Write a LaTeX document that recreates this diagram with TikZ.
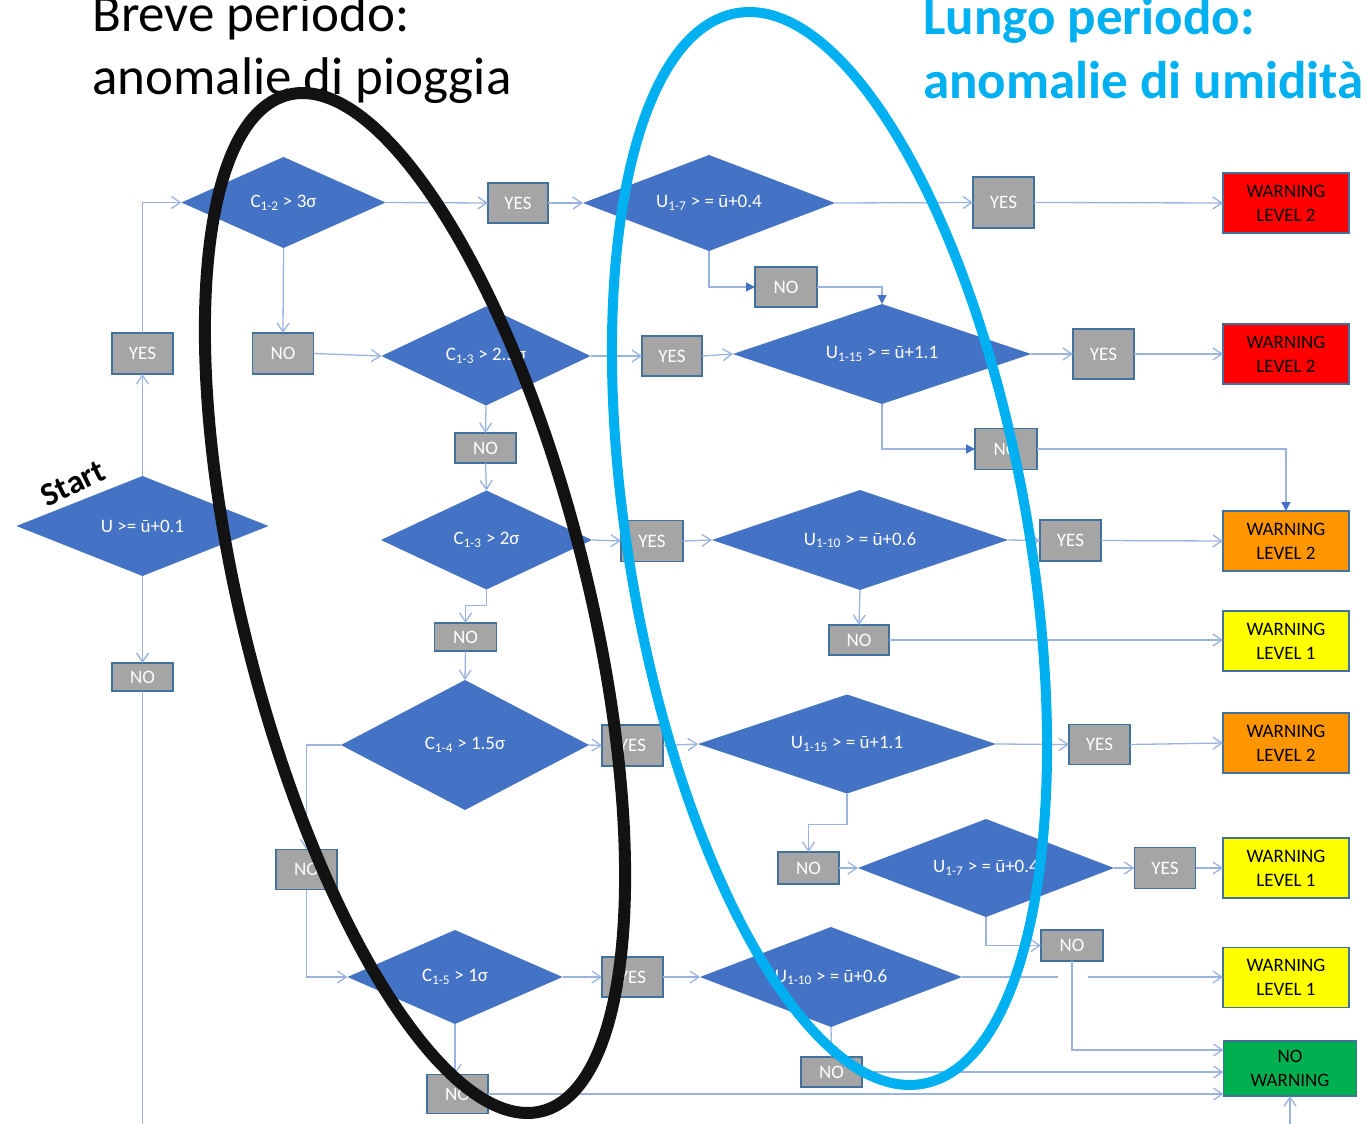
\documentclass[tikz,border=0pt]{standalone}
\usepackage{fontspec}
\setmainfont{Carlito}
\usetikzlibrary{shapes.geometric,arrows.meta}
\definecolor{dblue}{HTML}{4472C4}
\definecolor{lblue}{HTML}{9AB3E0}
\definecolor{gfill}{HTML}{A5A5A5}
\definecolor{bord}{HTML}{41719C}
\definecolor{cyanb}{HTML}{00B0F0}
\definecolor{wred}{HTML}{FF0000}
\definecolor{worange}{HTML}{FF9600}
\definecolor{wyellow}{HTML}{FFFF00}
\definecolor{wgreen}{HTML}{00B050}
\tikzset{
  dia/.style={diamond, aspect=2.5, fill=dblue, inner sep=0pt, outer sep=0pt, text=white,
    font=\fontsize{19}{22}\selectfont},
  gbox/.style={rectangle, fill=gfill, draw=bord, line width=1.5pt, inner sep=0pt,
    outer sep=0pt, text=white, font=\fontsize{19}{22}\selectfont},
  wbox/.style={rectangle, draw=bord, line width=1.2pt, inner sep=0pt, outer sep=0pt,
    text=black, align=center, font=\fontsize{19}{24}\selectfont,
    minimum width=126pt, minimum height=60pt},
  conn/.style={draw=lblue, line width=1.3pt, -{Straight Barb[length=9pt,width=12pt]}},
  fconn/.style={draw=lblue, line width=1.3pt, -{Triangle[length=9pt,width=9pt,color=dblue,fill=dblue]}},
  lineonly/.style={draw=lblue, line width=1.3pt},
  ttl/.style={anchor=base west, inner sep=0pt, font=\fontsize{53}{63}\selectfont},
}
\begin{document}
\begin{tikzpicture}[x=1pt,y=-1pt]
\useasboundingbox (0,0) rectangle (1368,1124);
\fill[white] (0,0) rectangle (1368,1124);

% titles
\node[ttl] (t1) at (92,32) {Breve periodo:};
\node[ttl] (t2) at (92,95) {anomalie di pioggia};
\node[ttl, text=cyanb, font=\bfseries\fontsize{53}{63}\selectfont] (t3) at (923,35) {Lungo periodo:};
\node[ttl, text=cyanb, font=\bfseries\fontsize{53}{63}\selectfont] (t4) at (923,98) {anomalie di umidità};

% diamonds (rain)
\node[dia, minimum width=252pt, minimum height=100pt] (D0) at (142.5,526) {U >= ū+0.1};
\node[dia, minimum width=204pt, minimum height=91pt] (D1) at (283.5,202.5) {C\textsubscript{1-2} > 3σ};
\node[dia, minimum width=209pt, minimum height=99pt] (D2) at (486,356) {C\textsubscript{1-3} > 2.5σ};
\node[dia, minimum width=211pt, minimum height=99pt] (D3) at (486.5,540) {C\textsubscript{1-3} > 2σ};
\node[dia, minimum width=248pt, minimum height=130pt] (D4) at (465,745) {C\textsubscript{1-4} > 1.5σ};
\node[dia, minimum width=215pt, minimum height=94pt] (D5) at (455,977) {C\textsubscript{1-5} > 1σ};

% diamonds (humidity)
\node[dia, minimum width=252pt, minimum height=96pt] (E1) at (709,203) {U\textsubscript{1-7} > = ū+0.4};
\node[dia, minimum width=298pt, minimum height=100pt] (E2) at (882,354) {U\textsubscript{1-15} > = ū+1.1};
\node[dia, minimum width=296pt, minimum height=100pt] (E3) at (860,540) {U\textsubscript{1-10} > = ū+0.6};
\node[dia, minimum width=298pt, minimum height=99pt] (E4) at (847,744) {U\textsubscript{1-15} > = ū+1.1};
\node[dia, minimum width=256pt, minimum height=98pt] (E5) at (986,868) {U\textsubscript{1-7} > = ū+0.4};
\node[dia, minimum width=262pt, minimum height=100pt] (E6) at (831,977) {U\textsubscript{1-10} > = ū+0.6};

% gray boxes
\node[gbox, minimum width=61pt, minimum height=41pt] (yesA) at (142.5,353.5) {YES};
\node[gbox, minimum width=61pt, minimum height=28pt] (noA) at (142.5,677) {NO};
\node[gbox, minimum width=61pt, minimum height=41pt] (no1) at (283,353.5) {NO};
\node[gbox, minimum width=60pt, minimum height=40pt] (yes1) at (518,203) {YES};
\node[gbox, minimum width=61pt, minimum height=30pt] (no2) at (485.5,448) {NO};
\node[gbox, minimum width=60pt, minimum height=40pt] (yes2) at (672,356) {YES};
\node[gbox, minimum width=62pt, minimum height=28pt] (no3) at (465.5,637) {NO};
\node[gbox, minimum width=62pt, minimum height=41pt] (yes3) at (652,541) {YES};
\node[gbox, minimum width=61pt, minimum height=41pt] (yes4) at (632.5,745.5) {YES};
\node[gbox, minimum width=61pt, minimum height=40pt] (noB) at (306.5,869.5) {NO};
\node[gbox, minimum width=61pt, minimum height=40pt] (yes5) at (632.5,977) {YES};
\node[gbox, minimum width=61pt, minimum height=39pt] (no5) at (457.5,1094) {NO};
\node[gbox, minimum width=61pt, minimum height=51pt] (E1yes) at (1003.5,202.5) {YES};
\node[gbox, minimum width=62pt, minimum height=40pt] (E1no) at (786,287) {NO};
\node[gbox, minimum width=61pt, minimum height=50pt] (E2yes) at (1103.5,354) {YES};
\node[gbox, minimum width=62pt, minimum height=41pt] (E2no) at (1006,449) {NO};
\node[gbox, minimum width=61pt, minimum height=41pt] (E3yes) at (1070.5,540.5) {YES};
\node[gbox, minimum width=60pt, minimum height=30pt] (E3no) at (859,640) {NO};
\node[gbox, minimum width=61pt, minimum height=40pt] (E4yes) at (1099.5,744.5) {YES};
\node[gbox, minimum width=61pt, minimum height=32pt] (E5noin) at (808.5,868) {NO};
\node[gbox, minimum width=61pt, minimum height=41pt] (E5yes) at (1165,868) {YES};
\node[gbox, minimum width=62pt, minimum height=31pt] (E5noout) at (1072,945.5) {NO};
\node[gbox, minimum width=61pt, minimum height=30pt] (E6no) at (831.5,1072) {NO};

% warning boxes
\node[wbox, fill=wred] (W1) at (1286,203) {WARNING\\LEVEL 2};
\node[wbox, fill=wred] (W2) at (1286,354) {WARNING\\LEVEL 2};
\node[wbox, fill=worange] (W3) at (1286,541) {WARNING\\LEVEL 2};
\node[wbox, fill=wyellow] (W4) at (1286,641) {WARNING\\LEVEL 1};
\node[wbox, fill=worange] (W5) at (1286,743) {WARNING\\LEVEL 2};
\node[wbox, fill=wyellow] (W6) at (1286,868) {WARNING\\LEVEL 1};
\node[wbox, fill=wyellow] (W7) at (1286,977.5) {WARNING\\LEVEL 1};
\node[wbox, fill=wgreen, minimum width=133pt, minimum height=55pt] (W8) at (1290,1068.5) {NO\\WARNING};

% start label
\node[rotate=26, inner sep=0pt, font=\bfseries\fontsize{33}{36}\selectfont] (start) at (73,483) {Start};

% free ends at the bottom edge
\coordinate (exitA) at (142.5,1124);
\coordinate (enterW8) at (1290,1124);

% connectors (rain side)
\draw[conn] (D0.north) -- (yesA.south);
\draw[conn] (yesA.north) |- (D1.west);
\draw[conn] (D0.south) -- (noA.north);
\draw[lineonly] (noA.south) -- (exitA);
\draw[conn] (enterW8) -- (W8.south);
\draw[conn] (D1.east) -- (yes1.west);
\draw[conn] (yes1.east) -- (E1.west);
\draw[conn] (D1.south) -- (no1.north);
\draw[conn] (no1.east) -- (D2.west);
\draw[conn] (D2.east) -- (yes2.west);
\draw[conn] (yes2.east) -- (E2.west);
\draw[conn] (D2.south) -- (no2.north);
\draw[conn] (no2.south) -- (D3.north);
\draw[conn] (D3.east) -- (yes3.west);
\draw[conn] (yes3.east) -- (E3.west);
\draw[conn] (D3.south) -- ++(0,16) -| (no3.north);
\draw[conn] (no3.south) -- (D4.north);
\draw[conn] (D4.east) -- (yes4.west);
\draw[conn] (yes4.east) -- (E4.west);
\draw[conn] (D4.west) -| (noB.north);
\draw[conn] (noB.south) |- (D5.west);
\draw[conn] (D5.east) -- (yes5.west);
\draw[conn] (yes5.east) -- (E6.west);
\draw[conn] (D5.south) -- (D5.south |- no5.north);
\draw[conn] (no5.east) -- (no5.east -| W8.west);

% connectors (humidity side)
\draw[conn] (E1.east) -- (E1yes.west);
\draw[conn] (E1yes.east) -- (W1.west);
\draw[fconn] (E1.south) |- (E1no.west);
\draw[fconn] (E1no.east) -| (E2.north);
\draw[conn] (E2.east) -- (E2yes.west);
\draw[conn] (E2yes.east) -- (W2.west);
\draw[fconn] (E2.south) |- (E2no.west);
\draw[fconn] (E2no.east) -| (W3.north);
\draw[conn] (E3.east) -- (E3yes.west);
\draw[conn] (E3yes.east) -- (W3.west);
\draw[conn] (E3.south) -- (E3no.north);
\draw[conn] (E3no.east) -- (E3no.east -| W4.west);
\draw[conn] (E4.east) -- (E4yes.west);
\draw[conn] (E4yes.east) -- (W5.west);
\draw[conn] (E4.south) -- ++(0,31) -| (E5noin.north);
\draw[conn] (E5noin.east) -- (E5.west);
\draw[conn] (E5.east) -- (E5yes.west);
\draw[conn] (E5yes.east) -- (W6.west);
\draw[conn] (E5.south) |- (E5noout.west);
\draw[conn] (E6.east) -- (E6.east -| W7.west);
\fill[white] (1058,973) rectangle (1088,983);
\draw[conn] (E5noout.south) |- ([yshift=-9pt]W8.north west);
\draw[conn] (E6.south) -- (E6no.north);
\draw[conn] (E6no.east) -- (E6no.east -| W8.west);

% highlighting ellipses
\draw[line width=12pt, black!93, rotate around={14:(415,603)}] (415,603) ellipse [x radius=172.7, y radius=523.8];
\draw[line width=10pt, cyanb, rotate around={9.85:(829.5,548.5)}] (829.5,548.5) ellipse [x radius=199.6, y radius=543.4];
\end{tikzpicture}
\end{document}
